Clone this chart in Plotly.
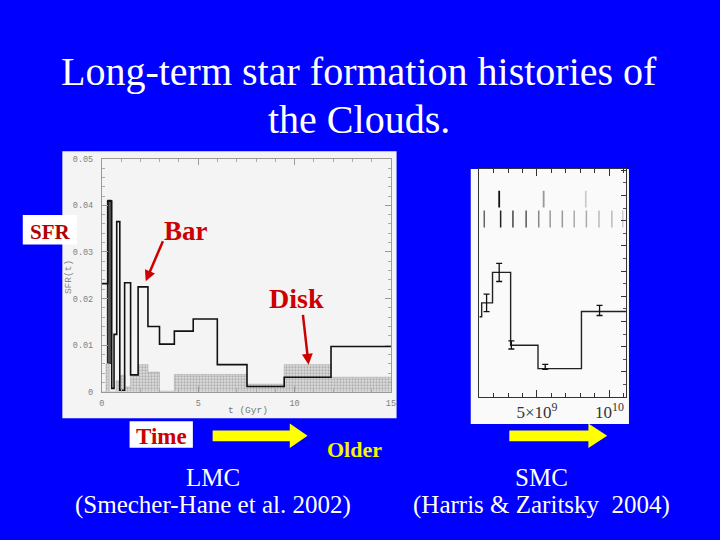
import math
import plotly.graph_objects as go

W, H = 720, 540

# ---------------- data ----------------
# LMC (Smecher-Hane et al. 2002): total SFR step histogram (black outline)
lmc_edges = [0, 0.31, 0.51, 0.63, 0.77, 0.93, 1.18, 1.49, 1.88, 2.39, 2.99,
             3.76, 4.74, 5.99, 7.53, 9.46, 11.89, 15]
lmc_sfr = [0.0232, 0.0409, 0.0007, 0.0123, 0.0365, 0.0003, 0.0234, 0.0036,
           0.0225, 0.014, 0.0102, 0.013, 0.0156, 0.0058, 0.0011, 0.0031, 0.0097]
# LMC disk SFR (dotted fill)
disk_edges = [0, 0.22, 0.38, 0.74, 0.97, 1.2, 1.49, 1.88, 2.39, 2.99, 3.76,
              7.53, 9.46, 11.89, 15]
disk_sfr = [0, 0.006, 0, 0.0023, 0.0035, 0.001, 0.0035, 0.0058, 0.0042,
            0.0001, 0.0037, 0.0016, 0.0058, 0.0031]
# dark narrow burst bin
burst_t = [0.41]
burst_width = [0.2]
burst_lo = [0.006]
burst_hi = [0.0409]

lmc_xticks = [0, 5, 10, 15]
lmc_xtick_text = ["0", "5", "10", "15"]
lmc_yticks = [0, 0.01, 0.02, 0.03, 0.04, 0.05]
lmc_ytick_text = ["0", "0.01", "0.02", "0.03", "0.04", "0.05"]

# SMC (Harris & Zaritsky 2004): step SFR (arbitrary units) vs age (yr)
smc_edges = [1.02e9, 1.18e9, 1.93e9, 3.18e9, 5.07e9, 8.07e9, 11.18e9]
smc_sfr = [3.19, 3.74, 4.95, 2.06, 1.13, 3.40]
smc_err_age = [1.52e9, 2.39e9, 3.23e9, 5.57e9, 9.32e9]
smc_err_val = [3.74, 4.95, 2.07, 1.20, 3.44]
smc_err = [0.35, 0.36, 0.16, 0.10, 0.20]
# isochrone age marks
rug_upper_age = [2.39e9, 5.46e9, 8.37e9]
rug_upper_col = ["#111111", "#999999", "#cccccc"]
rug_lower_age = [1.36e9, 2.49e9, 3.34e9, 4.25e9, 5.12e9, 5.91e9, 6.75e9,
                 7.57e9, 8.41e9, 9.28e9, 10.17e9, 10.92e9]
rug_lower_col = ["#666666", "#222222", "#444444", "#555555", "#888888",
                 "#999999", "#999999", "#aaaaaa", "#aaaaaa", "#bbbbbb",
                 "#bbbbbb", "#cccccc"]
smc_xticks = [5e9, 1e10]
smc_xtick_text = ["5×10<sup>9</sup>", "10<sup>10</sup>"]


def px(x):
    return x / W


def py(y):
    return 1 - y / H


fig = go.Figure()

# LMC disk (dotted)
fig.add_trace(go.Scatter(
    x=disk_edges, y=disk_sfr + [disk_sfr[-1]], mode="lines",
    line=dict(shape="hv", color="#aaaaaa", width=0.6),
    fill="tozeroy", fillcolor="rgba(0,0,0,0)",
    fillpattern=dict(shape=".", fgcolor="#666666", bgcolor="#dddddd",
                     size=3, solidity=0.4),
    xaxis="x", yaxis="y", hoverinfo="skip", showlegend=False))

# dark burst bin
fig.add_trace(go.Bar(
    x=burst_t, y=[h - l for h, l in zip(burst_hi, burst_lo)], base=burst_lo,
    width=burst_width, marker=dict(color="#555555",
                                   line=dict(color="#111111", width=1)),
    xaxis="x", yaxis="y", hoverinfo="skip", showlegend=False))

# LMC total
fig.add_trace(go.Scatter(
    x=lmc_edges, y=lmc_sfr + [lmc_sfr[-1]], mode="lines",
    line=dict(shape="hv", color="#111111", width=1.6),
    xaxis="x", yaxis="y", hoverinfo="skip", showlegend=False))

# SMC step
fig.add_trace(go.Scatter(
    x=smc_edges, y=smc_sfr + [smc_sfr[-1]], mode="lines",
    line=dict(shape="hv", color="#222222", width=1.4),
    xaxis="x2", yaxis="y2", hoverinfo="skip", showlegend=False))

# SMC error bars
fig.add_trace(go.Scatter(
    x=smc_err_age, y=smc_err_val, mode="markers",
    marker=dict(size=1, color="#111111"),
    error_y=dict(type="data", array=smc_err, visible=True, color="#111111",
                 thickness=1.3, width=3),
    xaxis="x2", yaxis="y2", hoverinfo="skip", showlegend=False))

# rug marks
fig.add_trace(go.Scatter(
    x=rug_upper_age, y=[7.86] * len(rug_upper_age), mode="markers",
    marker=dict(symbol="line-ns", size=12,
                line=dict(color=rug_upper_col, width=1.8)),
    xaxis="x2", yaxis="y2", hoverinfo="skip", showlegend=False))
fig.add_trace(go.Scatter(
    x=rug_lower_age, y=[7.07] * len(rug_lower_age), mode="markers",
    marker=dict(symbol="line-ns", size=12,
                line=dict(color=rug_lower_col, width=1.5)),
    xaxis="x2", yaxis="y2", hoverinfo="skip", showlegend=False))

shapes = [
    # panels
    dict(type="rect", xref="paper", yref="paper", x0=px(60), x1=px(398),
         y0=py(422), y1=py(150), fillcolor="#f4f4f4", line=dict(width=0),
         layer="below"),
    dict(type="rect", xref="paper", yref="paper", x0=px(473), x1=px(633),
         y0=py(428), y1=py(168), fillcolor="#fafafa", line=dict(width=0),
         layer="below"),
    # white label boxes
    dict(type="rect", xref="paper", yref="paper", x0=px(20), x1=px(75),
         y0=py(245), y1=py(215), fillcolor="white", line=dict(width=0),
         layer="above"),
    dict(type="rect", xref="paper", yref="paper", x0=px(128), x1=px(192),
         y0=py(452), y1=py(425), fillcolor="white", line=dict(width=0),
         layer="above"),
]


def poly(pts):
    return "M " + " L ".join(f"{px(a):.5f},{py(b):.5f}" for a, b in pts) + " Z"


def block_arrow(x0, x1, xt, yc, hs, hh):
    return poly([(x0, yc - hs), (x1, yc - hs), (x1, yc - hh), (xt, yc),
                 (x1, yc + hh), (x1, yc + hs), (x0, yc + hs)])


for (a0, a1, at) in [(212, 290, 308), (512, 592, 611)]:
    shapes.append(dict(type="path", xref="paper", yref="paper",
                       path=block_arrow(a0, a1, at, 440, 5.5, 12.5),
                       fillcolor="#ffff00", line=dict(width=0), layer="above"))


def line_arrow(tx, ty, hx, hy, color, width=2.5, hl=11, hw=5.5):
    dx, dy = hx - tx, hy - ty
    L = math.hypot(dx, dy)
    ux, uy = dx / L, dy / L
    bx, by = hx - hl * ux, hy - hl * uy
    nx, ny = -uy, ux
    shapes.append(dict(type="line", xref="paper", yref="paper",
                       x0=px(tx), y0=py(ty), x1=px(bx + 2 * ux),
                       y1=py(by + 2 * uy),
                       line=dict(color=color, width=width), layer="above"))
    shapes.append(dict(type="path", xref="paper", yref="paper",
                       path=poly([(hx, hy), (bx + hw * nx, by + hw * ny),
                                  (bx - hw * nx, by - hw * ny)]),
                       fillcolor=color, line=dict(width=0), layer="above"))


line_arrow(161.7, 241.7, 144.3, 282.5, "#cc0000")
line_arrow(303.3, 316.7, 309, 367.5, "#cc0000")

serif = "Liberation Serif"
ann = []


def txt(x, y, s, size, color, bold=False, family=serif, **kw):
    d = dict(x=px(x), y=py(y), xref="paper", yref="paper", text=s,
             showarrow=False, xanchor="center", yanchor="middle",
             font=dict(family=family, size=size, color=color,
                       weight="bold" if bold else "normal"))
    d.update(kw)
    ann.append(d)


txt(360, 69, "Long-term star formation histories of", 40, "white")
txt(360, 118, "the Clouds.", 40, "white")
txt(212, 482, "LMC", 25, "white")
txt(212, 510, "(Smecher-Hane et al. 2002)", 25, "white")
txt(545, 482, "SMC", 25, "white")
txt(545, 510, "(Harris & Zaritsky  2004)", 25, "white")
txt(160, 441, "Time", 23, "#cc0000", bold=True)
txt(355, 454, "Older", 22, "#f5f500", bold=True)
txt(48, 232, "SFR", 21, "#b00000", bold=True)
txt(185, 231, "Bar", 27, "#cc0000", bold=True)
txt(297, 300, "Disk", 28, "#cc0000", bold=True)
# axis titles of the LMC figure
txt(248, 414, "t (Gyr)", 9.5, "#777777", family="Liberation Mono")
txt(67, 278, "SFR(t)", 9.5, "#888888", family="Liberation Mono",
    textangle=-90)

mono = dict(family="Liberation Mono", size=8.5, color="#808080")

fig.update_layout(
    width=W, height=H, margin=dict(l=0, r=0, t=0, b=0),
    paper_bgcolor="#0000ff", plot_bgcolor="rgba(0,0,0,0)",
    showlegend=False, shapes=shapes, annotations=ann, bargap=0,
    xaxis=dict(domain=[px(100), px(392.3)], range=[0, 15], anchor="y",
               showgrid=False, zeroline=False, showline=True,
               linecolor="#999999", linewidth=1, mirror="allticks",
               ticks="inside", ticklen=6, tickcolor="#999999",
               ticklabelstandoff=3,
               tickvals=lmc_xticks, ticktext=lmc_xtick_text, tickfont=mono,
               minor=dict(dtick=1, ticks="inside", ticklen=3,
                          tickcolor="#aaaaaa")),
    yaxis=dict(domain=[py(395), py(157.7)], range=[0, 0.05], anchor="x",
               showgrid=False, zeroline=False, showline=True,
               linecolor="#999999", linewidth=1, mirror="allticks",
               ticks="inside", ticklen=6, tickcolor="#999999",
               ticklabelstandoff=6,
               tickvals=lmc_yticks, ticktext=lmc_ytick_text, tickfont=mono,
               minor=dict(dtick=0.002, ticks="inside", ticklen=3,
                          tickcolor="#aaaaaa")),
    xaxis2=dict(domain=[px(481.7), px(630.5)], range=[1.02e9, 11.18e9],
                anchor="y2", showgrid=False, zeroline=False, showline=True,
                linecolor="#333333", linewidth=1, mirror="allticks",
                ticks="inside", ticklen=7, tickcolor="#333333",
                tickvals=smc_xticks, ticktext=smc_xtick_text,
                tickfont=dict(family=serif, size=17, color="#333333"),
                minor=dict(dtick=1e9, tick0=0, ticks="inside", ticklen=4,
                           tickcolor="#333333")),
    yaxis2=dict(domain=[py(400.5), py(168)], range=[0, 9.06], anchor="x2",
                side="right", showgrid=False, zeroline=False, showline=True,
                linecolor="#333333", linewidth=1, mirror=True,
                ticks="inside", ticklen=5, tickcolor="#333333",
                dtick=1, showticklabels=False,
                minor=dict(dtick=0.5, ticks="inside", ticklen=3,
                           tickcolor="#555555")),
)

fig.write_html(
    "out.html",
    config={"displayModeBar": False},
    post_script="document.body.style.margin='0';"
                "document.body.style.overflow='hidden';")
